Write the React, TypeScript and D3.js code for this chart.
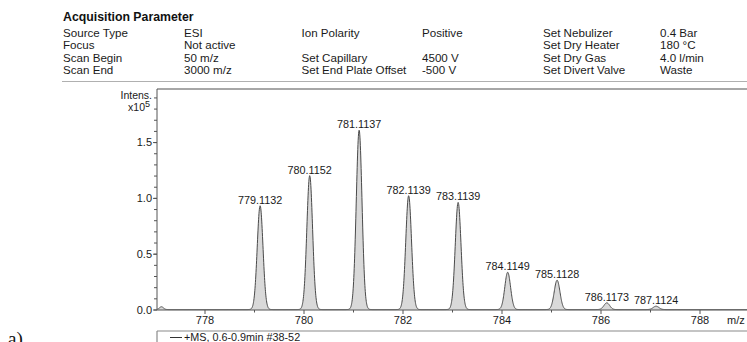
import React from "react";
import * as d3 from "d3";

// Header table of acquisition settings (six columns)
const headerCol1 = ["Source Type", "Focus", "Scan Begin", "Scan End"];
const headerCol2 = ["ESI", "Not active", "50 m/z", "3000 m/z"];
const headerCol3 = ["Ion Polarity", "", "Set Capillary", "Set End Plate Offset"];
const headerCol4 = ["Positive", "", "4500 V", "-500 V"];
const headerCol5 = ["Set Nebulizer", "Set Dry Heater", "Set Dry Gas", "Set Divert Valve"];
const headerCol6 = ["0.4 Bar", "180 °C", "4.0 l/min", "Waste"];

// Labelled isotope peaks (m/z, intensity in units of 1e5)
const peakMz = [779.1132, 780.1152, 781.1137, 782.1139, 783.1139, 784.1149, 785.1128, 786.1173, 787.1124];
const peakIntensity = [0.93, 1.2, 1.607, 1.02, 0.96, 0.334, 0.263, 0.06, 0.03];

// Small unlabelled features near the baseline
const minorMz = [777.12];
const minorIntensity = [0.025];

// Axis ticks
const mzMajorTicks = [778, 780, 782, 784, 786, 788];
const mzMinorTicks = [779, 781, 783, 785, 787];
const intensMajorTicks = [0, 0.5, 1.0, 1.5];
const intensMinorTicks = d3.range(0, 20).map((i) => i / 10);

const legendText = "+MS, 0.6-0.9min #38-52";

const W = 747;
const H = 342;
const FONT = "'Liberation Sans', Arial, sans-serif";

export default function App() {
  const x = d3.scaleLinear().domain([777.03, 789.0]).range([157, 749.5]);
  const y = d3.scaleLinear().domain([0, 1.98]).range([310, 89]);

  // Profile trace: each centroid rendered with a Gaussian line shape
  const sigma = 0.058;
  const allMz = [...peakMz, ...minorMz];
  const allInt = [...peakIntensity, ...minorIntensity];
  const samples = d3.range(777.03, 789.0, 0.004).map((m) => {
    let v = 0.004;
    allMz.forEach((c, i) => {
      const s = i >= peakMz.length ? 0.04 : sigma;
      v += allInt[i] * Math.exp(-((m - c) ** 2) / (2 * s * s));
    });
    return [m, v] as [number, number];
  });

  const area = d3
    .area<[number, number]>()
    .x((d) => x(d[0]))
    .y0(y(0))
    .y1((d) => y(d[1]));
  const line = d3
    .line<[number, number]>()
    .x((d) => x(d[0]))
    .y((d) => y(d[1]));

  const rowY = [37, 49.3, 61.5, 73.8];
  const colX = [63, 184, 301.5, 422, 543, 660];
  const cols = [headerCol1, headerCol2, headerCol3, headerCol4, headerCol5, headerCol6];

  return (
    <svg
      width={W}
      height={H}
      style={{ position: "absolute", left: 0, top: 0, background: "#fff" }}
      fontFamily={FONT}
    >
      <rect x={0} y={0} width={W} height={H} fill="#fff" />

      {/* Header */}
      <text x={63} y={21} fontSize={12.3} fontWeight="bold" fill="#111">
        Acquisition Parameter
      </text>
      {cols.map((col, ci) =>
        col.map((t, ri) =>
          t ? (
            <text key={`${ci}-${ri}`} x={colX[ci]} y={rowY[ri]} fontSize={11.6} fill="#1a1a1a">
              {t}
            </text>
          ) : null
        )
      )}
      <line x1={62} x2={W} y1={81.5} y2={81.5} stroke="#b0b0b0" strokeWidth={1} />

      {/* Plot frame */}
      <line x1={157} x2={W} y1={89} y2={89} stroke="#8a8a8a" strokeWidth={1.6} />
      <line x1={157} x2={157} y1={89} y2={310} stroke="#555" strokeWidth={1} />

      {/* Spectrum */}
      <path d={area(samples) || ""} fill="#d9d9d9" />
      <path d={line(samples) || ""} fill="none" stroke="#4a4a4a" strokeWidth={1} />

      {/* x axis */}
      <line x1={157} x2={W} y1={310} y2={310} stroke="#555" strokeWidth={1} />
      {mzMajorTicks.map((t) => (
        <g key={t}>
          <line x1={x(t)} x2={x(t)} y1={310} y2={314} stroke="#555" />
          <text x={x(t)} y={324} fontSize={11} textAnchor="middle" fill="#1a1a1a">
            {t}
          </text>
        </g>
      ))}
      {mzMinorTicks.map((t) => (
        <line key={t} x1={x(t)} x2={x(t)} y1={310} y2={312.5} stroke="#555" />
      ))}
      <text x={727} y={324} fontSize={11} fill="#1a1a1a">
        m/z
      </text>

      {/* y axis */}
      {intensMinorTicks.map((t) => (
        <line key={t} x1={154} x2={157} y1={y(t)} y2={y(t)} stroke="#555" />
      ))}
      {intensMajorTicks.map((t) => (
        <g key={t}>
          <line x1={153} x2={157} y1={y(t)} y2={y(t)} stroke="#555" />
          <text x={152} y={y(t) + 3.9} fontSize={11} textAnchor="end" fill="#1a1a1a">
            {d3.format(".1f")(t)}
          </text>
        </g>
      ))}
      <text x={152} y={98.5} fontSize={10.5} textAnchor="end" fill="#1a1a1a">
        Intens.
      </text>
      <text x={150} y={111} fontSize={10.5} textAnchor="end" fill="#1a1a1a">
        x10<tspan dy={-4} fontSize={9}>5</tspan>
      </text>

      {/* Peak labels */}
      {peakMz.map((m, i) => (
        <text
          key={m}
          x={x(m)}
          y={y(peakIntensity[i]) - 2.5}
          fontSize={10.8}
          textAnchor="middle"
          fill="#1a1a1a"
        >
          {m.toFixed(4)}
        </text>
      ))}

      {/* Legend */}
      <line x1={157} x2={W} y1={331} y2={331} stroke="#8a8a8a" strokeWidth={1.2} />
      <line x1={157} x2={157} y1={331} y2={H} stroke="#8a8a8a" strokeWidth={1.2} />
      <line x1={170} x2={182} y1={337.5} y2={337.5} stroke="#333" strokeWidth={1} />
      <text x={184} y={341} fontSize={10.8} fill="#1a1a1a">
        {legendText}
      </text>

      {/* Panel letter */}
      <text x={8} y={345} fontSize={19} fontFamily="'Liberation Serif', 'Times New Roman', serif" fill="#111">
        a)
      </text>
    </svg>
  );
}
